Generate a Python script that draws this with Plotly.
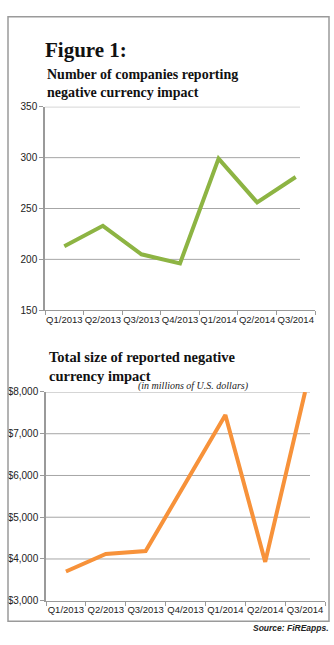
import plotly.graph_objects as go

W, H = 334, 645

quarters = ["Q1/2013", "Q2/2013", "Q3/2013", "Q4/2013", "Q1/2014", "Q2/2014", "Q3/2014"]
companies = [213, 233, 205, 196, 299, 256, 281]
impact_musd = [3700, 4120, 4190, 5800, 7450, 3930, 8000]

y1_ticks = [150, 200, 250, 300, 350]
y2_ticks = [3000, 4000, 5000, 6000, 7000, 8000]

GREEN = "#8DB443"
ORANGE = "#F7923A"
GRID = "#A6A6A6"
AXIS = "#9A9A9A"
YFONT = dict(family="Liberation Sans, Arial", size=10, color="#222")
XFONT = dict(family="Liberation Sans, Arial", size=9.5, color="#222")


def px(x):
    return x / W


def py(y):
    return 1 - y / H


fig = go.Figure()
fig.add_trace(go.Scatter(x=quarters, y=companies, mode="lines", xaxis="x", yaxis="y",
                         line=dict(color=GREEN, width=4), hoverinfo="skip"))
fig.add_trace(go.Scatter(x=quarters, y=impact_musd, mode="lines", xaxis="x2", yaxis="y2",
                         line=dict(color=ORANGE, width=4), hoverinfo="skip", cliponaxis=False))

common_x = dict(type="category", tickson="boundaries", ticks="outside", ticklen=4,
                tickcolor=AXIS, showline=True, linecolor=AXIS, linewidth=1, tickangle=0,
                showgrid=False, tickfont=XFONT, range=[-0.5, 6.5], fixedrange=True)
common_y = dict(ticks="outside", ticklen=4, tickcolor=AXIS, showline=True, linecolor=AXIS,
                linewidth=1.5, showgrid=False, zeroline=False, tickfont=YFONT, fixedrange=True)

fig.update_layout(
    width=W, height=H,
    margin=dict(l=0, r=0, t=0, b=0),
    paper_bgcolor="white", plot_bgcolor="white",
    showlegend=False,
    xaxis=dict(common_x, domain=[px(45), px(315)], anchor="y"),
    yaxis=dict(common_y, domain=[py(310), py(102.7)], range=[150, 350],
               tickvals=y1_ticks, anchor="x"),
    xaxis2=dict(common_x, domain=[px(46), px(325)], anchor="y2"),
    yaxis2=dict(common_y, domain=[py(606), py(393.3)], range=[3000, 8000],
                tickvals=y2_ticks, tickformat="$,.0f", anchor="x2"),
)

shapes = []
# gridlines
for v in y1_ticks[1:]:
    shapes.append(dict(type="line", xref="x domain", yref="y", x0=0, x1=(300 - 45) / 270,
                       y0=v, y1=v, line=dict(color=GRID, width=1), layer="below"))
for v in y2_ticks[1:]:
    shapes.append(dict(type="line", xref="x2 domain", yref="y2", x0=0, x1=(310 - 46) / 279,
                       y0=v, y1=v, line=dict(color=GRID, width=1), layer="below"))
# outer border
shapes.append(dict(type="rect", xref="paper", yref="paper", x0=px(8), x1=px(329),
                   y0=py(627), y1=py(11), line=dict(color="#9A9A9A", width=1.5)))
fig.update_layout(shapes=shapes)

SERIF = "Liberation Serif, DejaVu Serif, serif"
ann = [
    dict(text="<b>Figure 1:</b>", x=px(43), y=py(45), font=dict(family=SERIF, size=21, color="#111")),
    dict(text="<b>Number of companies reporting<br>negative currency impact</b>", x=px(45), y=py(78.5),
         font=dict(family=SERIF, size=14, color="#111")),
    dict(text="<b>Total size of reported negative<br>currency impact</b>", x=px(47), y=py(367),
         font=dict(family=SERIF, size=14.5, color="#111")),
    dict(text="<i>(in millions of U.S. dollars)</i>", x=px(136), y=py(387.5),
         font=dict(family=SERIF, size=10, color="#222")),
]
for a in ann:
    a.update(xref="paper", yref="paper", xanchor="left", yanchor="middle", align="left",
             showarrow=False)
ann.append(dict(text="<b><i>Source: FiREapps.</i></b>", xref="paper", yref="paper",
                x=px(331), y=py(634), xanchor="right", yanchor="middle", showarrow=False,
                font=dict(family="Liberation Sans, Arial", size=8.5, color="#222")))
fig.update_layout(annotations=ann)

fig.write_html("out.html", config={"displayModeBar": False})
